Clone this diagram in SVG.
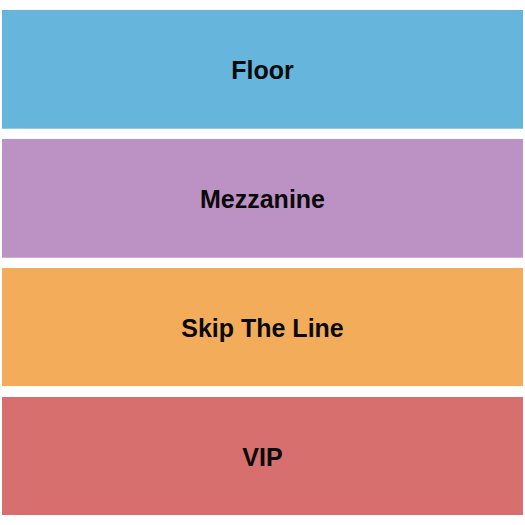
<svg xmlns="http://www.w3.org/2000/svg" width="525" height="525" viewBox="0 0 525 525">
<style>
.lbl{font-family:"Liberation Sans",Arial,sans-serif;font-weight:bold;font-size:25px;fill:#0a0a0a;text-anchor:middle}
</style>
<rect width="525" height="525" fill="#fff"/>
<g id="floor"><rect x="2" y="10" width="521" height="118.7" fill="#65B5DD"/><text class="lbl" x="262.5" y="78.5">Floor</text></g>
<g id="mezzanine"><rect x="2" y="139" width="521" height="118.7" fill="#BC91C4"/><text class="lbl" x="262.5" y="207.5">Mezzanine</text></g>
<g id="skip"><rect x="2" y="268" width="521" height="118" fill="#F3AD5A"/><text class="lbl" x="262.5" y="336.5">Skip The Line</text></g>
<g id="vip"><rect x="2" y="397" width="521" height="118" fill="#D76F6F"/><text class="lbl" x="262.5" y="465.5">VIP</text></g>
<g id="connectors"/>
</svg>
